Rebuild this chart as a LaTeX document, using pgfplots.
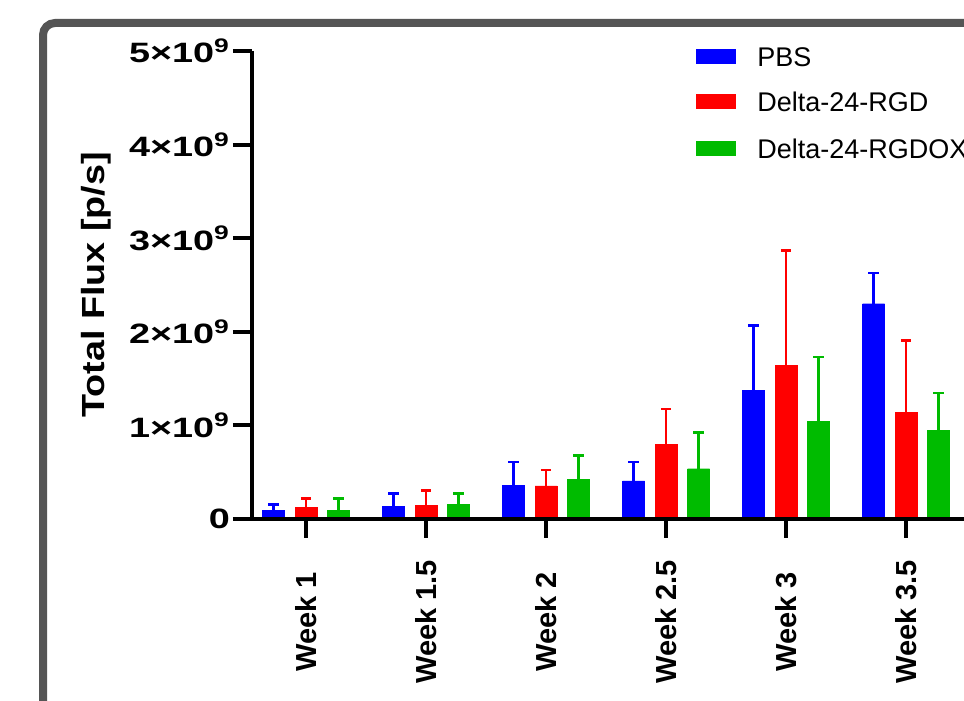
\documentclass[border=0pt]{standalone}
\usepackage{pgfplots}
\pgfplotsset{compat=1.18}
\usepackage{pgfplotstable}
\usepackage{fontspec}
\setmainfont{Liberation Sans}
\newfontfamily\ytfont{Liberation Sans}[FakeStretch=1.35]
\newfontfamily\ylfont{Liberation Sans}[FakeStretch=1.18]
\definecolor{pbsblue}{RGB}{0,0,255}
\definecolor{rgdred}{RGB}{255,0,0}
\definecolor{oxgreen}{RGB}{0,187,0}
\definecolor{framegray}{RGB}{85,85,85}

% values in units of 10^9 p/s; *e = upper error (SD)
\pgfplotstableread{
x pbs pbse rgd rgde ox oxe
0 0.093 0.064 0.121 0.100 0.093 0.124
1 0.136 0.134 0.146 0.156 0.153 0.117
2 0.360 0.249 0.353 0.171 0.420 0.261
3 0.406 0.203 0.798 0.377 0.537 0.385
4 1.375 0.694 1.638 1.228 1.044 0.687
5 2.300 0.328 1.140 0.765 0.948 0.398
}\fluxdata

\begin{document}
\begin{tikzpicture}
\useasboundingbox (0,0) rectangle (482pt,350.5pt);
\clip (0,0) rectangle (482pt,350.5pt);
\fill[white] (0,0) rectangle (482pt,350.5pt);
\draw[framegray, line width=4pt, rounded corners=6pt] (21.5pt,-10pt) -- (21.5pt,339pt) -- (500pt,339pt);
\begin{axis}[
  at={(126pt,91pt)}, anchor=south west,
  x=60pt, y=46.8pt,
  xmin=-0.45, xmax=5.8, ymin=0, ymax=5,
  enlargelimits=false, clip=false,
  ybar=0pt, bar width=11pt,
  axis line style={draw=none},
  tick pos=left, tick align=outside,
  major tick length=9.5pt,
  tick style={line width=2pt, black},
  xtick={0,...,5},
  xticklabels={Week 1, Week 1.5, Week 2, Week 2.5, Week 3, Week 3.5},
  ytick={0,...,5},
  yticklabels={0, 1×10\textsuperscript{9}, 2×10\textsuperscript{9}, 3×10\textsuperscript{9}, 4×10\textsuperscript{9}, 5×10\textsuperscript{9}},
  xticklabel style={font=\bfseries\fontsize{14.5pt}{16pt}\selectfont, yshift=-42pt, rotate=90, anchor=center},
  yticklabel style={font=\ytfont\bfseries\fontsize{14pt}{16pt}\selectfont, anchor=east, xshift=2pt},
  ylabel={Total Flux [p/s]},
  ylabel style={font=\ylfont\bfseries\fontsize{16pt}{18pt}\selectfont, at={(axis description cs:-0.208,0.5)}, anchor=center},
]
\addplot[fill=pbsblue, draw=pbsblue, line width=0.2pt, bar shift=-16.25pt,
  error bars/.cd, y dir=plus, y explicit, error mark=|,
  error bar style={draw=pbsblue, line width=1.3pt},
  error mark options={draw=pbsblue, line width=1.3pt, mark size=2.6pt}]
  table[x=x, y=pbs, y error=pbse] {\fluxdata};
\addplot[fill=rgdred, draw=rgdred, line width=0.2pt, bar shift=0pt,
  error bars/.cd, y dir=plus, y explicit, error mark=|,
  error bar style={draw=rgdred, line width=1.3pt},
  error mark options={draw=rgdred, line width=1.3pt, mark size=2.6pt}]
  table[x=x, y=rgd, y error=rgde] {\fluxdata};
\addplot[fill=oxgreen, draw=oxgreen, line width=0.2pt, bar shift=16.25pt,
  error bars/.cd, y dir=plus, y explicit, error mark=|,
  error bar style={draw=oxgreen, line width=1.3pt},
  error mark options={draw=oxgreen, line width=1.3pt, mark size=2.6pt}]
  table[x=x, y=ox, y error=oxe] {\fluxdata};
\draw[line width=2.3pt] (axis cs:-0.45,0) -- (axis cs:-0.45,5);
\draw[line width=2.3pt] (axis cs:-0.605,0) -- (axis cs:5.8,0);
\end{axis}
% legend
\fill[pbsblue] (348pt,318.5pt) rectangle (368pt,326pt);
\fill[rgdred] (348pt,295.75pt) rectangle (368pt,303.25pt);
\fill[oxgreen] (348pt,272.25pt) rectangle (368pt,279.75pt);
\node[anchor=base west, inner sep=0pt, font=\fontsize{13.5pt}{15pt}\selectfont] at (378.5pt,317.4pt) {PBS};
\node[anchor=base west, inner sep=0pt, font=\fontsize{13.5pt}{15pt}\selectfont] at (378.5pt,294.65pt) {Delta-24-RGD};
\node[anchor=base west, inner sep=0pt, font=\fontsize{13.5pt}{15pt}\selectfont] at (378.5pt,271.15pt) {Delta-24-RGDOX};
\end{tikzpicture}
\end{document}
